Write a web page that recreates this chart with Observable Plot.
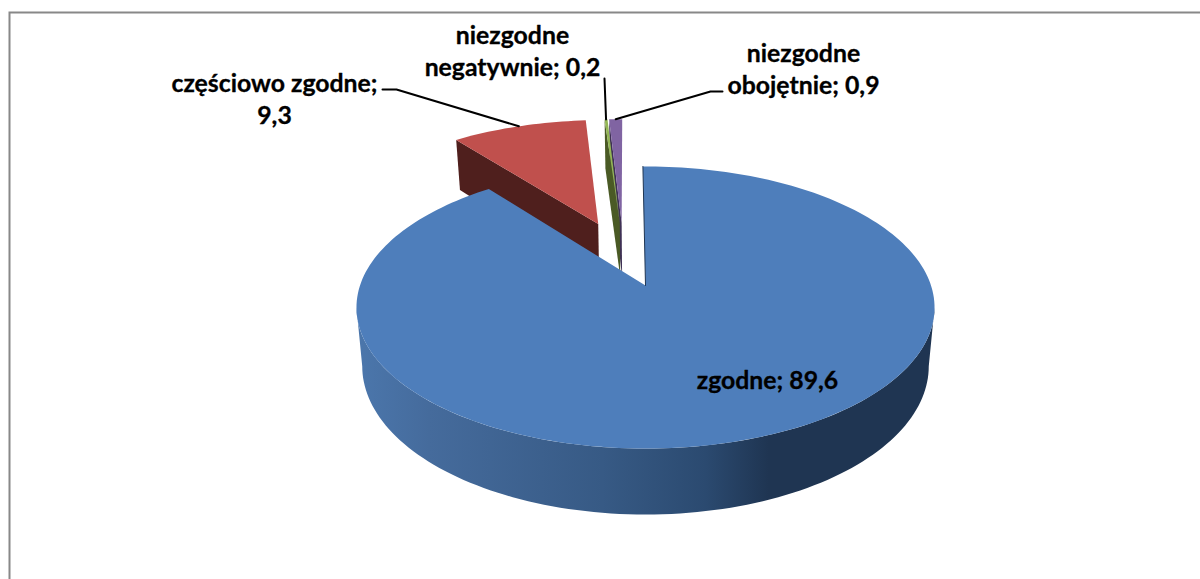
<!DOCTYPE html>
<html><head><meta charset="utf-8">
<script src="https://cdn.jsdelivr.net/npm/d3@7"></script>
<script src="https://cdn.jsdelivr.net/npm/@observablehq/plot@0.6"></script>
<style>html,body{margin:0;padding:0;background:#fff}svg{display:block}</style>
</head><body><div id="chart"></div>
<script>
// data
const categories = ["zgodne", "częściowo zgodne", "niezgodne negatywnie", "niezgodne obojętnie"];
const values = [89.6, 9.3, 0.2, 0.9];
const labels = ["zgodne; 89,6", "częściowo zgodne;\n9,3", "niezgodne\nnegatywnie; 0,2", "niezgodne\nobojętnie; 0,9"];
// styles / layout
const topColors = ["#4e7ebb", "#c0504d", "#93b654", "#8064a2"];
const wallColors = ["url(#wall)", "#4f1f1d", "#4a5a25", "#3f3155"];
const explodeU = [0, -0.178, -0.097, -0.09];
const explodeV = [0, 0.48, 0.49, 0.49];
const labelX = [767, 274, 512, 803];
const labelY = [378, 97, 49, 67];
const leaderKnees = [null, [[382, 89], [396, 89]], [[604, 78]], [[722, 91], [710, 91]]];

// perspective pie model
const W = 1200, H = 579;
const cx = 645, cy = 285, a = 285.5, b = 137.6, k = 0.156, rot = -0.6;
const total = d3.sum(values);
const project = (u, v) => { const w = 1 + k * v; return [cx + a * u / w, cy - b * v / w]; };
const projectLow = (u, v) => {
  const w = 1 + k * v, [X, Y] = project(u, v);
  return [cx + (X - cx) * 0.98, Y + 12.3 + 45.3 / w];
};
const rad = d => d * Math.PI / 180;
let acc = rot;
const slices = categories.map((c, i) => {
  const start = acc, end = acc + values[i] / total * 360; acc = end;
  return {c, i, start, end, u0: explodeU[i], v0: explodeV[i]};
});
const rim = (s, deg, f = project) => f(s.u0 + Math.sin(rad(deg)), s.v0 + Math.cos(rad(deg)));
const arc = (s, from, to, f = project) => {
  const n = Math.max(2, Math.ceil(Math.abs(to - from) / 1.5));
  return d3.range(n + 1).map(j => rim(s, from + (to - from) * j / n, f));
};
const wedge = s => [project(s.u0, s.v0), ...arc(s, s.start, s.end)];
const radialWall = (s, deg) => [rim(s, deg), project(s.u0, s.v0), projectLow(s.u0, s.v0), rim(s, deg, projectLow)];
const rimWall = (s, from, to) => [...arc(s, from, to), ...arc(s, to, from, projectLow)];

const poly = (pts, fill) => Plot.line(pts, {x: d => d[0], y: d => d[1], fill, stroke: "none"});
const [blue, red, green, purple] = slices;
const mid = s => rim(s, (s.start + s.end) / 2);
const leaders = [red, green, purple].map(s => [...leaderKnees[s.i], mid(s)]);

const defs = () => {
  const svg = d3.create("svg:defs");
  const g = svg.append("linearGradient").attr("id", "wall").attr("gradientUnits", "userSpaceOnUse")
    .attr("x1", 360).attr("x2", 935).attr("y1", 0).attr("y2", 0);
  [[0, "#4b76ab"], [0.12, "#456b9c"], [0.42, "#375a85"], [0.6, "#2b4a70"], [0.71, "#1f3552"], [1, "#1f3552"]]
    .forEach(([o, c]) => g.append("stop").attr("offset", o).attr("stop-color", c));
  return svg.node();
};

const chart = Plot.plot({
  width: W, height: H, margin: 0,
  x: {domain: [0, W], range: [0, W], axis: null},
  y: {domain: [0, H], range: [0, H], axis: null},
  style: {background: "#fff"},
  marks: [
    defs,
    Plot.frame({stroke: "#888888", strokeWidth: 2, insetLeft: 9, insetTop: 12, insetRight: -20, insetBottom: -20}),
    poly(radialWall(red, red.start), wallColors[1]),
    poly(wedge(red), topColors[1]),
    poly(radialWall(purple, purple.start), wallColors[3]),
    poly(radialWall(green, green.start), wallColors[2]),
    poly(wedge(green), topColors[2]),
    poly(wedge(purple), topColors[3]),
    poly(rimWall(blue, 99, 261), wallColors[0]),
    poly(wedge(blue), topColors[0]),
    Plot.line([rim(blue, blue.start), project(0, 0)], {x: d => d[0], y: d => d[1], stroke: "#1f3552", strokeWidth: 1}),
    ...leaders.map(l => Plot.line(l, {x: d => d[0], y: d => d[1], stroke: "#000", strokeWidth: 2})),
    Plot.text(labels, {
      x: (d, i) => labelX[i], y: (d, i) => labelY[i], text: d => d,
      fontFamily: "Lato", fontWeight: "bold", fontSize: 24.8, fill: "#000", stroke: "#000", strokeWidth: 0.3,
      lineHeight: 1.29, lineAnchor: "middle", textAnchor: "middle"
    })
  ]
});
document.getElementById("chart").append(chart);
</script></body></html>
